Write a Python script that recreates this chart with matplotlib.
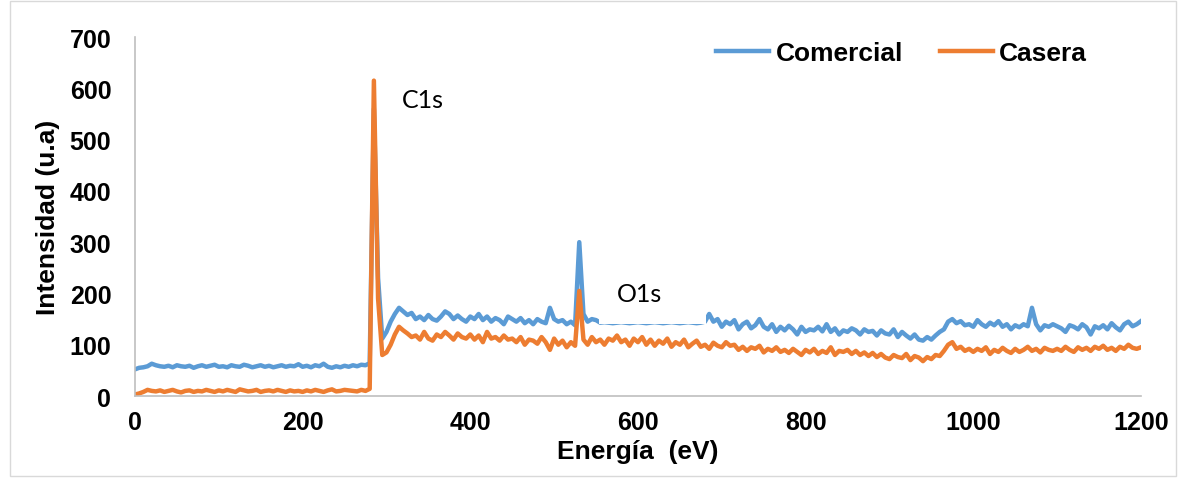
import matplotlib
matplotlib.use("Agg")
import matplotlib.pyplot as plt
from matplotlib import patches
import numpy as np

# energia (eV), paso de 5 eV
energia = np.arange(0, 1201, 5)

comercial = [
    52, 55, 56, 58, 63, 60, 58, 57, 59, 56, 60, 58, 57, 59, 55, 58, 60, 57, 59, 61,
    57, 58, 56, 60, 58, 57, 61, 59, 56, 58, 60, 57, 59, 56, 58, 60, 57, 59, 58, 62,
    57, 59, 56, 60, 58, 63, 57, 55, 58, 56, 59, 57, 60, 58, 61, 60, 64, 560, 230, 112,
    125, 145, 160, 172, 165, 158, 162, 150, 155, 148, 158, 150, 147, 155, 165, 160, 150, 157, 150, 145,
    155, 150, 160, 148, 155, 145, 152, 148, 140, 155, 150, 145, 152, 142, 148, 140, 150, 145, 142, 172,
    150, 145, 148, 140, 145, 138, 300, 160, 145, 150, 148, 143, 144, 143, 142, 143, 144, 143, 142, 143,
    144, 143, 142, 143, 144, 143, 142, 143, 144, 143, 142, 143, 144, 143, 142, 143, 145, 160, 145, 150,
    135, 145, 140, 148, 130, 140, 145, 132, 138, 150, 135, 130, 140, 125, 135, 128, 137, 130, 120, 135,
    125, 130, 128, 135, 126, 140, 125, 132, 120, 128, 125, 132, 128, 120, 130, 125, 127, 118, 128, 122,
    120, 130, 115, 125, 118, 112, 120, 110, 108, 115, 110, 118, 125, 130, 145, 150, 142, 146, 138, 140,
    135, 148, 140, 135, 143, 138, 146, 135, 140, 130, 138, 134, 140, 136, 172, 140, 128, 138, 135, 140,
    136, 132, 125, 138, 135, 130, 140, 134, 120, 136, 132, 138, 130, 142, 134, 128, 140, 145, 136, 140,
    146,
]

casera = [
    3, 5, 8, 12, 10, 9, 11, 8, 10, 12, 9, 7, 10, 11, 8, 10, 9, 12, 10, 8,
    11, 9, 12, 10, 8, 13, 11, 9, 10, 12, 8, 10, 11, 9, 12, 10, 8, 11, 9, 10,
    8, 11, 9, 12, 10, 8, 11, 13, 9, 10, 12, 11, 10, 9, 12, 10, 14, 615, 190, 80,
    85, 100, 120, 135, 128, 122, 115, 118, 110, 125, 112, 108, 120, 115, 125, 118, 110, 122, 115, 112,
    120, 110, 118, 105, 125, 112, 115, 108, 118, 110, 112, 105, 115, 100, 110, 108, 102, 115, 105, 90,
    112, 100, 108, 95, 105, 98, 205, 110, 100, 115, 105, 110, 100, 112, 108, 118, 105, 110, 98, 112,
    105, 115, 100, 110, 98, 108, 102, 112, 96, 105, 100, 110, 95, 102, 108, 96, 100, 92, 104, 98,
    95, 105, 98, 100, 90, 96, 88, 95, 92, 98, 85, 92, 88, 95, 86, 90, 84, 92, 86, 80,
    90, 85, 92, 82, 88, 84, 95, 80, 88, 86, 90, 82, 88, 80, 85, 78, 84, 76, 82, 75,
    72, 80, 76, 74, 82, 70, 78, 75, 68, 76, 72, 80, 78, 88, 100, 105, 92, 96, 88, 92,
    86, 92, 88, 95, 82, 90, 86, 94, 88, 84, 92, 86, 90, 96, 88, 92, 85, 94, 90, 88,
    92, 88, 96, 90, 86, 95, 90, 94, 88, 96, 92, 98, 90, 94, 88, 96, 92, 100, 94, 92,
    95,
]

azul = '#5B9BD5'
naranja = '#ED7D31'
gris = '#BFBFBF'

plt.rcParams['font.family'] = ['Liberation Sans', 'DejaVu Sans']

fig = plt.figure(figsize=(11.86, 4.85), dpi=100)
ax = fig.add_axes([0.1138, 0.1814, 0.8482, 0.7402])

ax.plot(energia, comercial, color=azul, lw=3.2, label='Comercial', zorder=2)
ax.plot(energia, casera, color=naranja, lw=3.2, label='Casera', zorder=2.1)

# cuadro de texto de las etiquetas (fondo blanco, tapa la linea como en Excel)
ax.add_patch(patches.Rectangle((553, 141), 128, 100, facecolor='white',
                               edgecolor='none', zorder=3))
ax.text(318, 579, 'C1s', fontsize=18, family='Lato', va='center', zorder=4)
ax.text(575, 199, 'O1s', fontsize=18, family='Lato', va='center', zorder=4)

ax.set_xlim(0, 1200)
ax.set_ylim(0, 700)
ax.set_xticks(np.arange(0, 1201, 200))
ax.set_yticks(np.arange(0, 701, 100))
ax.tick_params(axis='both', length=0, labelsize=18)
ax.tick_params(axis='y', pad=17)
ax.tick_params(axis='x', pad=10)
for lbl in ax.get_xticklabels() + ax.get_yticklabels():
    lbl.set_fontweight('bold')

for s in ['top', 'right']:
    ax.spines[s].set_visible(False)
for s in ['left', 'bottom']:
    ax.spines[s].set_color(gris)
    ax.spines[s].set_linewidth(1.2)

ax.set_xlabel('Energía  (eV)', fontsize=19, fontweight='bold', labelpad=4)
ax.set_ylabel('Intensidad (u.a)', fontsize=19, fontweight='bold', labelpad=7)

leg = ax.legend(loc='center right', bbox_to_anchor=(0.97, 0.955), ncol=2, frameon=False,
                prop={'weight': 'bold', 'size': 19}, handlelength=2.0,
                handletextpad=0.25, columnspacing=1.4)

# marco exterior del grafico
fig.add_artist(patches.Rectangle((0.0084, 0.0165), 0.9832, 0.98, transform=fig.transFigure,
                                 fill=False, edgecolor='#D9D9D9', lw=1))

plt.savefig('out.png', dpi=100)
